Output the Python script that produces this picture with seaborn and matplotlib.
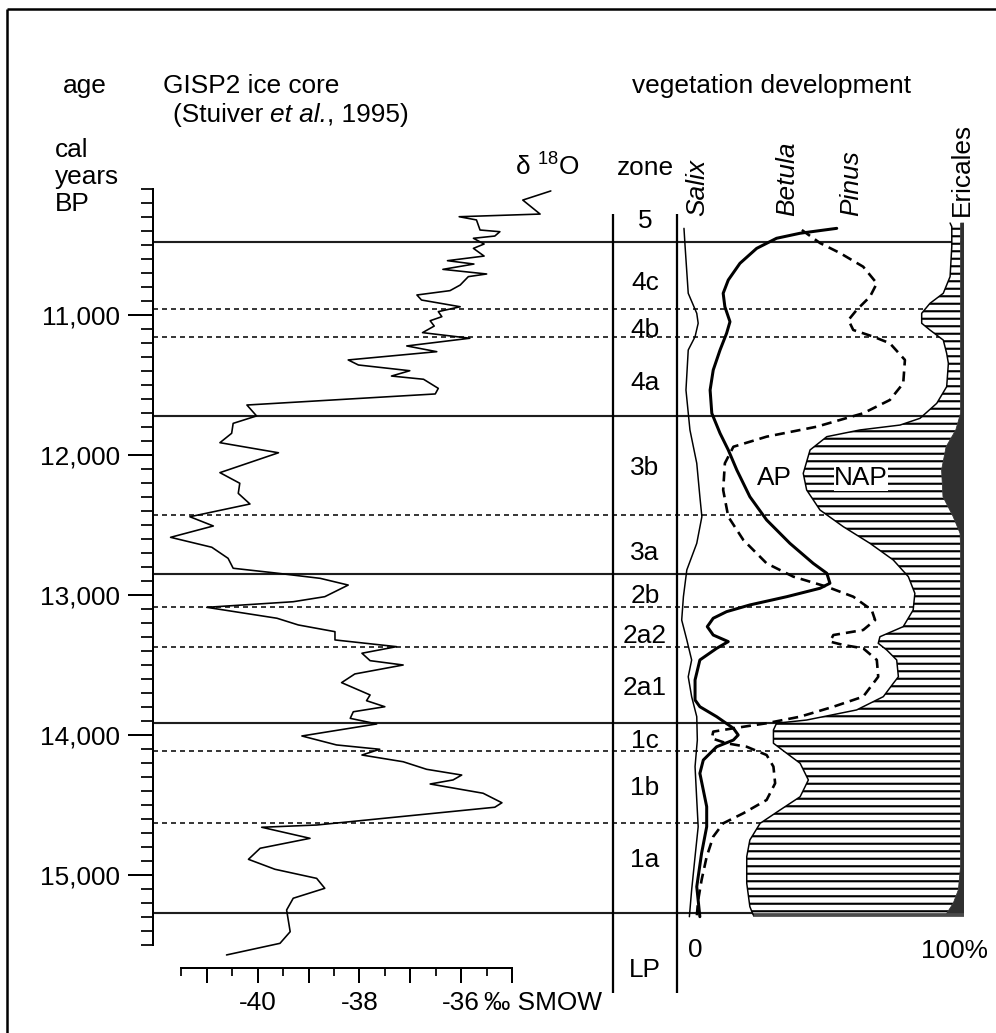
import matplotlib
matplotlib.use("Agg")
import matplotlib.pyplot as plt
from matplotlib.ticker import FixedLocator, FixedFormatter, FuncFormatter
import seaborn as sns

sns.set_style("ticks")
plt.rcParams.update({
    "font.family": ["Liberation Sans", "DejaVu Sans"],
    "mathtext.fontset": "custom",
    "mathtext.rm": "Liberation Sans",
    "mathtext.it": "Liberation Sans:italic",
    "mathtext.bf": "Liberation Sans:bold",
    "text.color": "black",
    "axes.edgecolor": "black",
    "xtick.color": "black",
    "ytick.color": "black",
    "hatch.color": "black",
    "hatch.linewidth": 1.7,
    "lines.scale_dashes": False,
    "axes.unicode_minus": False,
})

# ---------------------------------------------------------------- data
# GISP2 delta-18O (Stuiver et al., 1995): age in cal years BP, permil SMOW
gisp_age = [10114, 10179, 10279, 10298, 10321, 10393, 10405, 10436, 10452, 10493,
            10524, 10579, 10612, 10636, 10674, 10707, 10726, 10786, 10826, 10857,
            10893, 10941, 10976, 11012, 11041, 11079, 11126, 11166, 11221, 11262,
            11321, 11357, 11398, 11436, 11459, 11524, 11564, 11643, 11721, 11774,
            11845, 11912, 11984, 12126, 12202, 12274, 12350, 12441, 12507, 12588,
            12659, 12738, 12809, 12841, 12881, 12929, 13012, 13048, 13088, 13166,
            13214, 13262, 13321, 13369, 13416, 13469, 13500, 13564, 13626, 13714,
            13755, 13798, 13834, 13881, 13921, 14007, 14071, 14102, 14143, 14191,
            14245, 14286, 14321, 14350, 14416, 14484, 14516, 14643, 14659, 14738,
            14809, 14888, 14959, 15024, 15095, 15166, 15250, 15405, 15488, 15571]
gisp_d18o = [-34.24, -34.79, -34.45, -36.04, -35.70, -35.63, -35.24, -35.34, -35.76, -35.55,
             -35.76, -35.55, -36.27, -35.75, -36.36, -35.50, -35.86, -36.02, -36.22, -36.87,
             -36.78, -36.02, -36.45, -36.38, -36.61, -36.53, -36.76, -35.83, -37.07, -36.48,
             -38.22, -38.02, -37.01, -37.37, -36.74, -36.45, -36.51, -40.21, -40.02, -40.48,
             -40.51, -40.74, -39.59, -40.74, -40.35, -40.38, -40.15, -41.33, -40.87, -41.71,
             -40.90, -40.58, -40.48, -39.69, -38.77, -38.22, -38.68, -39.30, -41.00, -39.62,
             -39.20, -38.48, -38.48, -37.27, -37.95, -37.79, -37.14, -38.09, -38.35, -37.79,
             -37.86, -37.50, -38.12, -38.18, -37.66, -39.13, -38.45, -37.60, -37.95, -37.14,
             -36.68, -35.99, -36.16, -36.61, -35.57, -35.20, -35.34, -38.84, -39.92, -38.97,
             -39.95, -40.18, -39.66, -38.84, -38.68, -39.30, -39.43, -39.36, -39.56, -40.61]

# pollen zone boundaries (cal years BP)
zone_solid = [10480, 11720, 12850, 13915, 15270]
zone_dashed = [10957, 11160, 12430, 13086, 13370, 14115, 14630]
zone_names = ["5", "4c", "4b", "4a", "3b", "3a", "2b", "2a2", "2a1", "1c", "1b", "1a", "LP"]
zone_label_age = [10379, 10821, 11157, 11536, 12143, 12750, 13057, 13343, 13714,
                  14093, 14429, 14943, 15729]

# pollen percentages
salix_age = [10381, 10512, 10845, 10988, 11059, 11155, 11250, 11536, 11821, 12059,
             12298, 12441, 12631, 12821, 13012, 13179, 13321, 13464, 13584, 13726,
             13869, 14036, 14226, 14464, 14655, 14869, 15107, 15298]
salix_pct = [1.4, 1.8, 2.9, 5.9, 6.4, 5.3, 2.9, 2.1, 3.5, 5.9,
             7.0, 7.7, 5.9, 2.4, 1.2, 0.6, 2.4, 4.1, 2.9, 4.1,
             5.9, 6.1, 5.3, 5.9, 6.4, 5.3, 4.1, 3.3]

betula_age = [10381, 10416, 10452, 10524, 10631, 10750, 10845, 10941, 11048, 11131,
              11250, 11393, 11536, 11702, 11845, 11964, 12107, 12298, 12464, 12631,
              12774, 12845, 12916, 12952, 13012, 13071, 13119, 13166, 13226, 13286,
              13333, 13381, 13464, 13607, 13750, 13798, 13869, 13952, 14000, 14036,
              14084, 14179, 14274, 14393, 14512, 14655, 14845, 15084, 15298]
betula_pct = [55.2, 42.3, 34.0, 27.0, 21.1, 17.0, 15.2, 15.8, 17.6, 16.4,
              14.1, 11.7, 10.6, 11.2, 14.1, 17.0, 20.0, 24.6, 30.5, 38.7,
              46.9, 51.7, 52.8, 49.3, 37.6, 24.6, 16.4, 11.7, 9.6, 11.7,
              17.0, 12.9, 7.0, 5.3, 5.3, 7.0, 12.9, 18.8, 20.5, 18.8,
              12.9, 8.2, 7.0, 8.2, 9.4, 9.4, 7.6, 5.9, 7.0]

pinus_age = [10393, 10486, 10557, 10655, 10774, 10869, 10964, 11036, 11107, 11155,
             11202, 11321, 11488, 11607, 11702, 11798, 11869, 11941, 12059, 12250,
             12441, 12607, 12774, 12869, 12941, 13012, 13107, 13179, 13250, 13286,
             13333, 13357, 13381, 13464, 13584, 13726, 13798, 13869, 13916, 13952,
             13976, 14024, 14059, 14084, 14143, 14226, 14345, 14464, 14559, 14631,
             14726, 14869, 15036, 15179, 15298]
pinus_pct = [42.9, 49.3, 56.3, 64.5, 69.3, 66.9, 62.2, 59.3, 61.0, 68.1,
             73.9, 79.2, 78.6, 73.9, 64.5, 48.1, 30.5, 18.8, 15.8, 15.2,
             17.0, 22.3, 30.5, 39.9, 51.7, 61.0, 67.5, 68.7, 64.5, 54.0,
             52.8, 57.5, 64.5, 69.3, 69.8, 64.5, 54.0, 42.3, 30.5, 18.8,
             11.7, 11.2, 16.4, 23.5, 30.5, 32.9, 33.5, 30.5, 22.3, 15.2,
             11.7, 9.4, 7.6, 6.4, 5.9]

# arboreal pollen sum (AP), NAP fills the rest up to the Ericales curve
ap_age = [10343, 10369, 10512, 10726, 10845, 10917, 10988, 11059, 11107, 11179,
          11274, 11345, 11512, 11631, 11738, 11786, 11821, 11869, 11964, 12131,
          12250, 12393, 12512, 12631, 12750, 12869, 12988, 13107, 13226, 13298,
          13345, 13393, 13464, 13584, 13631, 13726, 13821, 13893, 13916, 13964,
          14059, 14131, 14202, 14321, 14441, 14536, 14631, 14750, 14869, 15059,
          15226, 15286]
ap_pct = [95.1, 95.7, 95.7, 95.1, 92.7, 88.0, 85.1, 85.1, 88.0, 92.7,
          93.9, 94.5, 93.9, 90.4, 84.5, 77.5, 63.4, 51.7, 45.8, 43.4,
          44.6, 49.3, 57.5, 66.9, 75.1, 80.4, 82.7, 82.1, 78.6, 70.4,
          69.8, 72.8, 76.3, 76.9, 75.1, 71.6, 62.2, 44.6, 34.0, 32.9,
          32.9, 37.6, 42.3, 45.2, 42.3, 35.2, 28.2, 24.6, 23.5, 23.5,
          24.6, 25.8]

eric_age = [10343, 11702, 11821, 11941, 12107, 12298, 12441, 12559, 12655,
            14941, 15107, 15202, 15274, 15286]
eric_pct = [1.2, 1.2, 2.9, 6.3, 7.9, 7.4, 3.8, 1.4, 1.2,
            1.2, 2.0, 3.8, 6.1, 6.1]

# ---------------------------------------------------------------- layout
W, H, DPI = 996, 1033, 90
FS = 21
PX_PER_YEAR = 0.14
REF_AGE, REF_PX = 12000, 455


def age_at(px):
    return REF_AGE + (px - REF_PX) / PX_PER_YEAR


age_top, age_bot = age_at(0), age_at(H)

AGE_X = 153            # age axis
ZONE_L, ZONE_R = 613, 677
VEG_L, VEG_R = 680, 964
D_PX_PER_PERMIL, D_REF_PX = 50.9, 257.6   # -40 permil position

fig = plt.figure(figsize=(W / DPI, H / DPI), dpi=DPI)
fig.patch.set_facecolor("white")

# zone boundary lines across all panels
ax_z = fig.add_axes([AGE_X / W, 0, (VEG_R - AGE_X) / W, 1])
ax_z.set_zorder(0)
ax_z.set_xlim(0, 1)
ax_z.set_ylim(age_bot, age_top)
ax_z.axis("off")
ax_z.hlines(zone_solid, 0, 1, colors="#1e1e1e", linewidth=1.7)
ax_z.hlines(zone_dashed, 0, 1, colors="#1e1e1e", linewidth=1.4,
            linestyles=[(0, (4.0, 3.2))])
zone_cx = ((ZONE_L + ZONE_R) / 2 - AGE_X) / (VEG_R - AGE_X)
for name, a in zip(zone_names, zone_label_age):
    ax_z.text(zone_cx, a, name, ha="center", va="baseline", fontsize=FS)

# frame, column rules and headings in pixel coordinates
ax_f = fig.add_axes([0, 0, 1, 1])
ax_f.set_zorder(1)
ax_f.patch.set_alpha(0)
ax_f.set_xlim(0, W)
ax_f.set_ylim(H, 0)
ax_f.axis("off")
ax_f.plot([7, 7], [9, H], color="black", linewidth=2.0, solid_capstyle="butt")
ax_f.plot([7, W], [9, 9], color="black", linewidth=2.0, solid_capstyle="butt")
ax_f.vlines([ZONE_L, ZONE_R], 214, 993, colors="black", linewidth=1.8)

heads = [
    (63, 93, "age"), (163, 93, "GISP2 ice core"),
    (55, 157, "cal"), (55, 184, "years"), (55, 211, "BP"),
    (632, 93, "vegetation development"), (617, 175, "zone"),
    (515, 176, "δ $^{18}$O"),
]
for x, y, s in heads:
    ax_f.text(x, y, s, ha="left", va="baseline", fontsize=FS)

# citation line with the italic "et al." set in sequence
part = ax_f.text(173, 122, "(Stuiver ", ha="left", va="baseline", fontsize=FS)
for s, st in [("et al.", "italic"), (", 1995)", "normal")]:
    part = ax_f.annotate(s, xy=(1, 0), xycoords=part, ha="left", va="bottom",
                         fontsize=FS, style=st)

for x, s, it in [(697.5, "Salix", True), (787, "Betula", True),
                 (851, "Pinus", True), (961.5, "Ericales", False)]:
    ax_f.text(x, 216, s, rotation=90, ha="center", va="bottom", fontsize=FS,
              style="italic" if it else "normal")

# GISP2 oxygen isotope panel
ax_d = fig.add_axes([AGE_X / W, 0, (ZONE_L - AGE_X) / W, 1])
ax_d.set_zorder(2)
ax_d.patch.set_alpha(0)
sns.lineplot(x=gisp_d18o, y=gisp_age, sort=False, estimator=None,
             color="black", linewidth=1.3, ax=ax_d)
ax_d.set_xlim(-40 + (AGE_X - D_REF_PX) / D_PX_PER_PERMIL,
              -40 + (ZONE_L - D_REF_PX) / D_PX_PER_PERMIL)
ax_d.set_ylim(age_bot, age_top)
ax_d.set_xlabel("")
ax_d.set_ylabel("")
for side in ("top", "right"):
    ax_d.spines[side].set_visible(False)
ax_d.spines["left"].set_bounds(10100, 15500)
ax_d.spines["left"].set_linewidth(1.6)
ax_d.spines["bottom"].set_position(("data", age_at(968)))
ax_d.spines["bottom"].set_bounds(-41.5, -35)
ax_d.spines["bottom"].set_linewidth(1.6)

ax_d.yaxis.set_major_locator(FixedLocator(list(range(11000, 15001, 1000))))
ax_d.yaxis.set_minor_locator(FixedLocator(list(range(10100, 15501, 100))))
ax_d.yaxis.set_major_formatter(FuncFormatter(lambda v, p: f"{int(v):,}"))
ax_d.tick_params(axis="y", which="major", left=True, direction="out",
                 length=20, width=1.6, pad=6, labelsize=FS)
ax_d.tick_params(axis="y", which="minor", left=True, direction="out",
                 length=9.6, width=1.4)

d_major = [-41, -40, -39, -38, -37, -36, -35]
d_labels = ["", "-40", "", "-38", "", "-36", ""]
ax_d.xaxis.set_major_locator(FixedLocator(d_major))
ax_d.xaxis.set_major_formatter(FixedFormatter(d_labels))
ax_d.xaxis.set_minor_locator(FixedLocator([v + 0.5 for v in range(-42, -35)]))
ax_d.tick_params(axis="x", which="major", bottom=True, direction="out",
                 length=12, width=1.6, pad=6, labelsize=FS)
ax_d.tick_params(axis="x", which="minor", bottom=True, direction="out",
                 length=6.4, width=1.4)
ax_d.text(-35.55, age_at(1010), "‰ SMOW", ha="left", va="baseline", fontsize=FS)

# vegetation panel (0-100 %)
ax_v = fig.add_axes([VEG_L / W, 0, (VEG_R - VEG_L) / W, 1])
ax_v.set_zorder(3)
ax_v.patch.set_alpha(0)
ax_v.axis("off")

eric_edge = [100 - e for e in eric_pct]
ax_v.fill(ap_pct + eric_edge[::-1], ap_age + eric_age[::-1],
          facecolor="white", edgecolor="black", hatch="--", linewidth=0, zorder=1)
ax_v.fill(eric_edge + [100, 100], eric_age + [eric_age[-1], eric_age[0]],
          facecolor="#303030", edgecolor="#303030", linewidth=0.6, zorder=2)
ax_v.plot([ap_pct[-1], 100], [ap_age[-1], ap_age[-1]], color="#4a4a4a",
          linewidth=3.0, solid_capstyle="butt", zorder=2)

sns.lineplot(x=ap_pct, y=ap_age, sort=False, estimator=None,
             color="black", linewidth=1.2, ax=ax_v, zorder=3)
sns.lineplot(x=salix_pct, y=salix_age, sort=False, estimator=None,
             color="black", linewidth=1.2, ax=ax_v, zorder=3)
sns.lineplot(x=betula_pct, y=betula_age, sort=False, estimator=None,
             color="black", linewidth=2.4, ax=ax_v, zorder=3)
sns.lineplot(x=pinus_pct, y=pinus_age, sort=False, estimator=None,
             color="black", linewidth=2.1, linestyle=(0, (8.0, 4.8)), ax=ax_v,
             zorder=3)
ax_v.set_xlim(0, 100)
ax_v.set_ylim(age_bot, age_top)

ax_v.text(33.1, age_at(485), "AP", ha="center", va="baseline", fontsize=FS)
ax_v.text(63.7, age_at(485), "NAP", ha="center", va="baseline", fontsize=FS,
          bbox=dict(facecolor="white", edgecolor="none", pad=0.5), zorder=4)
ax_v.text(2.8, age_at(957), "0", ha="left", va="baseline", fontsize=FS)
ax_v.text(96.8, age_at(958), "100%", ha="center", va="baseline", fontsize=FS)

fig.savefig("out.png", dpi=DPI, facecolor="white")
